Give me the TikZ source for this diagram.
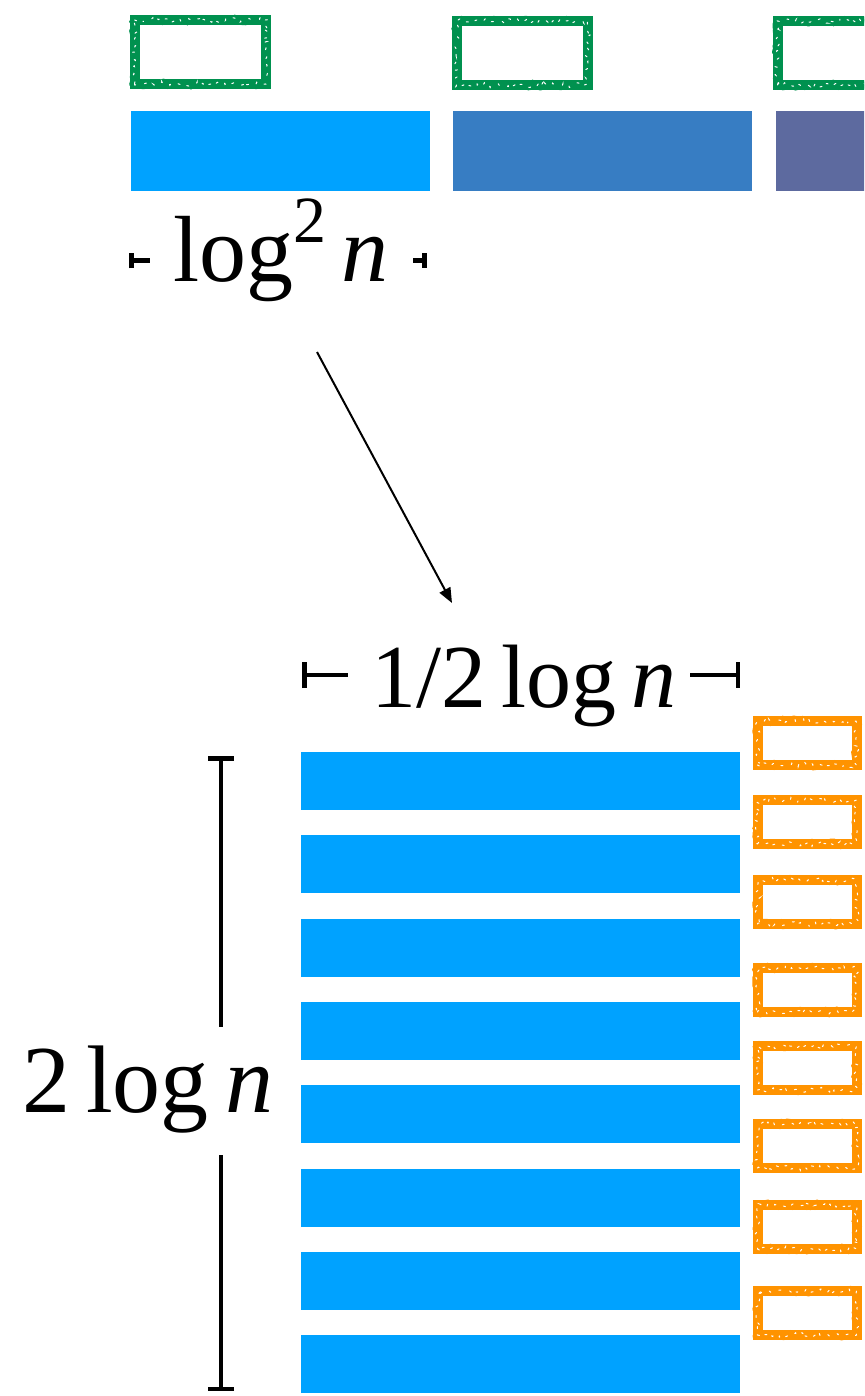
\documentclass[tikz,border=0pt]{standalone}
\usepackage{fontspec}
\setmainfont{Liberation Serif}
\usetikzlibrary{arrows.meta,decorations.pathmorphing}
\definecolor{barA}{HTML}{00A2FF}
\definecolor{barB}{HTML}{377DC3}
\definecolor{barC}{HTML}{5D6A9F}
\definecolor{sgreen}{HTML}{00914F}
\definecolor{sorange}{HTML}{FF9300}
\begin{document}
\begin{tikzpicture}[x=1pt,y=-1pt,
  bar/.style={rectangle, fill=#1, draw=none, inner sep=0pt, outer sep=0pt},
  sketchbox/.style={rectangle, draw=#1, line width=10pt, inner sep=0pt, outer sep=0pt,
     preaction={draw=#1, line width=4pt, line join=round, line cap=round, decorate,
       decoration={random steps, segment length=2.5pt, amplitude=3.6pt}},
     postaction={draw=#1, line width=3pt, line join=round, line cap=round, decorate,
       decoration={random steps, segment length=2pt, amplitude=3pt}},
     postaction={draw=white, line width=1pt, line cap=round, dash pattern=on 2pt off 10pt, decorate,
       decoration={random steps, segment length=2pt, amplitude=2.5pt}}},
  gbox/.style={sketchbox=sgreen, minimum width=131pt, minimum height=64pt},
  obox/.style={sketchbox=sorange, minimum width=99pt, minimum height=44pt},
  lbar/.style={bar=barA, minimum width=439pt, minimum height=58pt},
  lbl/.style={inner sep=0pt, outer sep=0pt, text=black},
  dim/.style={draw=black, line width=4.5pt},
  conn/.style={draw=black, line width=2pt, -{Triangle[length=15pt,width=12pt]}}
]
\path[use as bounding box] (0,0) rectangle (864,1396);
\clip (0,0) rectangle (864,1396);
\fill[white] (0,0) rectangle (864,1396);

% top row
\node[gbox] (g1) at (200,52) {};
\node[gbox] (g2) at (522,53) {};
\node[gbox] (g3) at (843,53) {};
\node[bar=barA, minimum width=299pt, minimum height=80pt] (t1) at (280.5,151) {};
\node[bar=barB, minimum width=299pt, minimum height=80pt] (t2) at (602.5,151) {};
\node[bar=barC, minimum width=299pt, minimum height=80pt] (t3) at (925.5,151) {};

% label log^2 n
\node[lbl, font=\fontsize{94}{100}\selectfont, anchor=base] (L1) at (281,282)
  {log\raisebox{0.42em}{\fontsize{66}{70}\selectfont 2}\hspace{0.16em}\textit{n}};
\coordinate (L1a) at (129,261);
\coordinate (L1b) at (150,261);
\coordinate (L1c) at (413,261);
\coordinate (L1d) at (427,261);
\draw[dim, line width=5pt, {Bar[width=15pt]}-] (L1a) -- (L1b);
\draw[dim, line width=5pt, -{Bar[width=15pt]}] (L1c) -- (L1d);

% arrow
\coordinate (A1) at (317,352);
\coordinate (A2) at (452,603);
\draw[conn] (A1) -- (A2);

% label 1/2 log n
\node[lbl, font=\fontsize{90}{96}\selectfont, anchor=base] (L2) at (524,707)
  {1/2\hspace{0.17em}log\hspace{0.17em}\textit{n}};
\coordinate (L2a) at (302,675);
\coordinate (L2b) at (348,675);
\coordinate (L2c) at (690,675);
\coordinate (L2d) at (740,675);
\draw[dim, {Bar[width=26pt]}-] (L2a) -- (L2b);
\draw[dim, -{Bar[width=26pt]}] (L2c) -- (L2d);

% lower bars
\foreach \i in {0,...,7} {
  \node[lbar] (b\i) at (520.5,{781+83.3*\i}) {};
}

% orange boxes
\foreach \y [count=\k] in {743,822,902,990,1068,1146,1227,1313} {
  \node[obox] (o\k) at (807,\y) {};
}

% label 2 log n
\node[lbl, font=\fontsize{96}{104}\selectfont, anchor=base west] (L3) at (22,1112)
  {2\hspace{0.17em}log\hspace{0.17em}\textit{n}};
\coordinate (V1) at (221,756);
\coordinate (V2) at (221,1027);
\coordinate (V3) at (221,1155);
\coordinate (V4) at (221,1391);
\draw[dim, {Bar[width=26pt]}-] (V1) -- (V2);
\draw[dim, -{Bar[width=26pt]}] (V3) -- (V4);
\end{tikzpicture}
\end{document}
